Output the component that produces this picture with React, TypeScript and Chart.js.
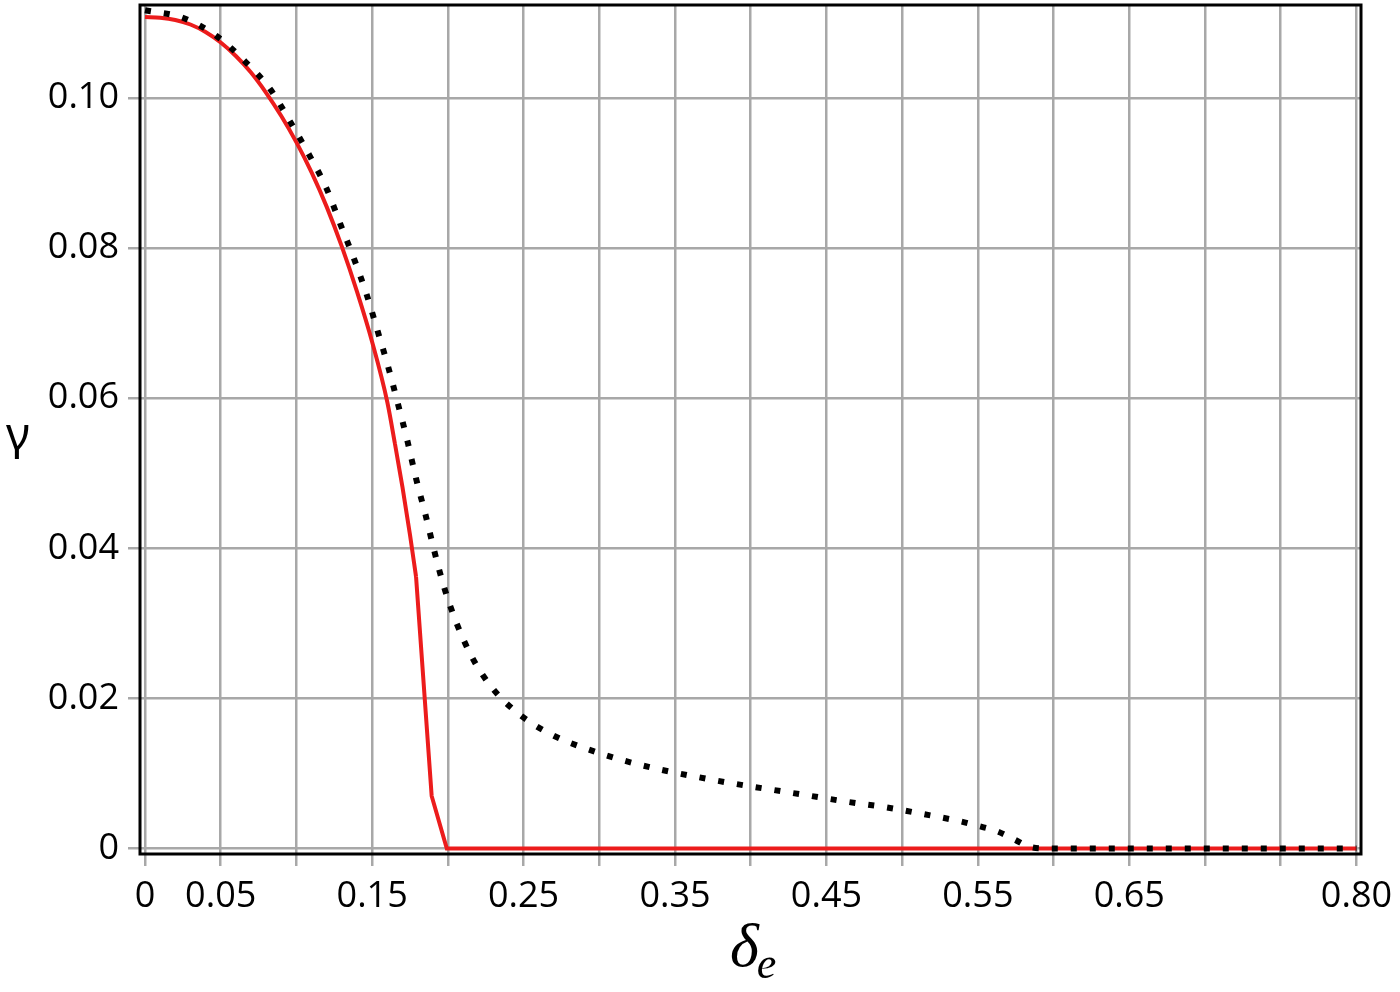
import { useEffect, useRef } from 'react';
import { Chart, registerables } from 'chart.js';

Chart.register(...registerables);

// ---- data ----
// red curve: smooth part, then the straight drop and the flat tail
const redCurveX = [0, 0.01, 0.02, 0.03, 0.04, 0.05, 0.06, 0.07, 0.08, 0.09, 0.10, 0.11, 0.12, 0.13, 0.14, 0.15, 0.16, 0.165, 0.17, 0.175, 0.179];
const redCurveY = [0.1108, 0.1107, 0.1104, 0.1098, 0.1088, 0.1074, 0.1056, 0.1034, 0.1007, 0.0976, 0.0941, 0.0901, 0.0855, 0.0802, 0.0742, 0.0675, 0.0595, 0.0540, 0.0482, 0.0418, 0.0362];
const redTailX = [0.179, 0.1893, 0.1993, 0.80];
const redTailY = [0.0362, 0.0070, 0, 0];

const dotX = [0, 0.025, 0.047, 0.066, 0.083, 0.096, 0.1085, 0.12, 0.129, 0.138, 0.1464, 0.1537, 0.1607, 0.1671, 0.1733, 0.179, 0.1852, 0.1911, 0.1977, 0.2058, 0.2162, 0.2301, 0.2483, 0.2692, 0.2928, 0.3166, 0.3408, 0.3655, 0.3902, 0.415, 0.44, 0.4646, 0.4893, 0.5137, 0.5388, 0.5504, 0.5626, 0.5742, 0.5846, 0.5974, 0.80];
const dotY = [0.1117, 0.1107, 0.1083, 0.1049, 0.1011, 0.0968, 0.0924, 0.0879, 0.0832, 0.0786, 0.0738, 0.0689, 0.0641, 0.0592, 0.0543, 0.0493, 0.0445, 0.0396, 0.0347, 0.0300, 0.0254, 0.0212, 0.0177, 0.0151, 0.0132, 0.0117, 0.0105, 0.0095, 0.0086, 0.0078, 0.0070, 0.0062, 0.0055, 0.0046, 0.0036, 0.0030, 0.0023, 0.0012, 0.0002, 0, 0];

const xTickValues = [0, 0.05, 0.10, 0.15, 0.20, 0.25, 0.30, 0.35, 0.40, 0.45, 0.50, 0.55, 0.60, 0.65, 0.70, 0.75, 0.80];
const xTickLabels = ['0', '0.05', '', '0.15', '', '0.25', '', '0.35', '', '0.45', '', '0.55', '', '0.65', '', '', '0.80'];
const yTickValues = [0, 0.02, 0.04, 0.06, 0.08, 0.10];
const yTickLabels = ['0', '0.02', '0.04', '0.06', '0.08', '0.10'];

const xTitleMain = 'δ';
const xTitleSub = 'e';
const yTitle = 'γ';

const W = 1400;
const H = 992;

export default function App() {
  const ref = useRef<HTMLCanvasElement | null>(null);

  useEffect(() => {
    document.body.style.margin = '0';
    const canvas = ref.current;
    if (!canvas) return;

    const framePlugin = {
      id: 'frameAndTitles',
      afterDraw(chart: any) {
        const { ctx, chartArea } = chart;
        ctx.save();
        ctx.strokeStyle = '#000';
        ctx.lineWidth = 3;
        ctx.strokeRect(chartArea.left, chartArea.top, chartArea.right - chartArea.left, chartArea.bottom - chartArea.top);

        // y title
        ctx.fillStyle = '#000';
        ctx.textBaseline = 'alphabetic';
        ctx.textAlign = 'left';
        ctx.font = '46px "Noto Sans"';
        ctx.fillText(yTitle, 6, 450);

        // x title with subscript
        ctx.font = 'italic 62px "Liberation Serif"';
        ctx.fillText(xTitleMain, 730, 966);
        const w = ctx.measureText(xTitleMain).width;
        ctx.font = 'italic 44px "Liberation Serif"';
        ctx.fillText(xTitleSub, 730 + w - 2, 978);
        ctx.restore();
      },
    };

    const redStyle = {
      borderColor: '#ec1c1c',
      borderWidth: 4,
      pointRadius: 0,
      fill: false,
    };

    const chart = new Chart(canvas, {
      type: 'line',
      data: {
        datasets: [
          {
            label: 'dotted',
            data: dotX.map((x, i) => ({ x, y: dotY[i] })),
            borderColor: '#000',
            borderWidth: 6,
            borderDash: [6, 13],
            borderCapStyle: 'butt',
            pointRadius: 0,
            cubicInterpolationMode: 'monotone',
            fill: false,
          },
          {
            label: 'red',
            data: redCurveX.map((x, i) => ({ x, y: redCurveY[i] })),
            ...redStyle,
            cubicInterpolationMode: 'monotone',
          },
          {
            label: 'red tail',
            data: redTailX.map((x, i) => ({ x, y: redTailY[i] })),
            ...redStyle,
            tension: 0,
          },
        ],
      },
      options: {
        responsive: false,
        animation: false,
        devicePixelRatio: 1,
        layout: { padding: { left: 0, top: 5, right: 39, bottom: 0 } },
        plugins: { legend: { display: false }, tooltip: { enabled: false } },
        scales: {
          x: {
            type: 'linear',
            min: -0.0033,
            max: 0.803,
            afterBuildTicks: (scale: any) => {
              scale.ticks = xTickValues.map((v) => ({ value: v }));
            },
            afterFit: (scale: any) => {
              scale.height = 138;
              scale.paddingLeft = 0;
              scale.paddingRight = 0;
            },
            ticks: {
              autoSkip: false,
              maxRotation: 0,
              padding: 9,
              color: '#000',
              font: { family: '"Open Sans"', size: 36 },
              callback: (_v: any, i: number) => xTickLabels[i],
            },
            grid: { color: '#a8a8a8', lineWidth: 2.5, tickLength: 12, drawTicks: true },
            border: { display: false },
          },
          y: {
            type: 'linear',
            min: -0.00073,
            max: 0.1124,
            afterBuildTicks: (scale: any) => {
              scale.ticks = yTickValues.map((v) => ({ value: v }));
            },
            afterFit: (scale: any) => {
              scale.width = 140;
              scale.paddingTop = 0;
              scale.paddingBottom = 0;
            },
            ticks: {
              autoSkip: false,
              padding: 9,
              color: '#000',
              font: { family: '"Open Sans"', size: 36 },
              callback: (_v: any, i: number) => yTickLabels[i],
            },
            grid: { color: '#a8a8a8', lineWidth: 2.5, tickLength: 12, drawTicks: true },
            border: { display: false },
          },
        },
      },
      plugins: [framePlugin],
    } as any);

    return () => chart.destroy();
  }, []);

  return <canvas ref={ref} width={W} height={H} style={{ display: 'block', width: W, height: H }} />;
}
